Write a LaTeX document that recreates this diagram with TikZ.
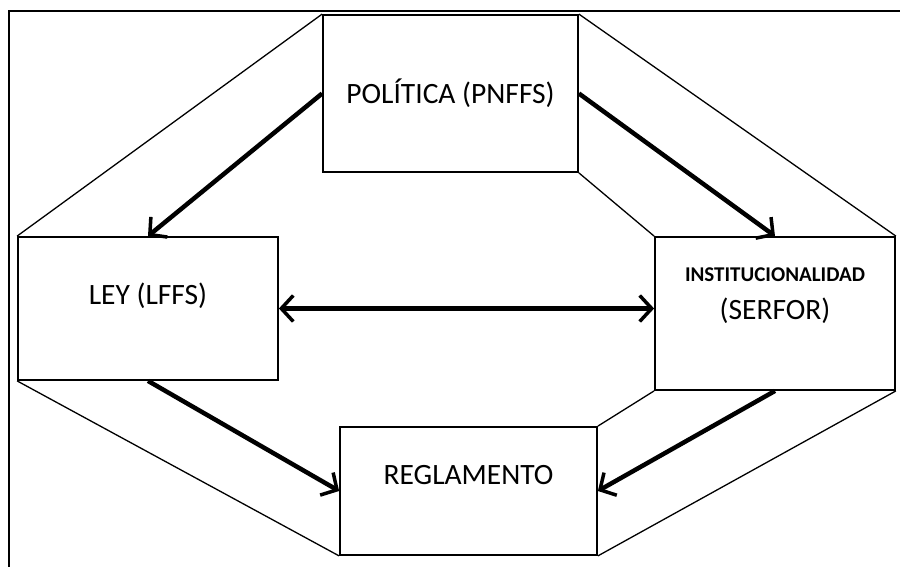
\documentclass[tikz,border=0pt]{standalone}
\usepackage{fontspec}
\setmainfont{Carlito}
\usetikzlibrary{arrows.meta}
\begin{document}
\begin{tikzpicture}[x=1pt,y=-1pt,
  >={Straight Barb[length=12pt,width=26pt,line width=3.5pt]},
  caja/.style={draw,line width=1.8pt,inner sep=0pt,font=\fontsize{29.5}{33}\selectfont},
  lado/.style={line width=1.3pt},
  flecha/.style={line width=4.5pt}]
\useasboundingbox (0,0) rectangle (900,567);
\draw[lado] (9,567) -- (9,11) -- (900,11);
% cajas
\node[caja,minimum width=255pt,minimum height=157pt] (pol) at (450.5,93.5) {POLÍTICA (PNFFS)};
\node[caja,minimum width=260pt,minimum height=143pt,text depth=30pt] (ley) at (148,308.5) {LEY (LFFS)};
\node[caja,minimum width=240pt,minimum height=153pt,align=center,text depth=40pt] (inst) at (775,313.5)
  {{\fontsize{21}{23}\selectfont\bfseries INSTITUCIONALIDAD}\\[5pt](SERFOR)};
\node[caja,minimum width=257pt,minimum height=128pt,text depth=32pt] (reg) at (468.5,491) {REGLAMENTO};
% contorno
\draw[lado]
(pol.north west) -- (ley.north west) (pol.north east) -- (inst.north east)
(pol.south east) -- (inst.north west) (ley.south west) -- (reg.south west)
(inst.south east) -- (reg.south east) (inst.south west) -- (reg.north east);
% flechas
\draw[flecha,->] (pol.west) -- (ley.north);
\draw[flecha,->] (pol.east) -- (inst.north);
\draw[flecha,<->] (ley.east) -- (inst.west |- ley.east);
\draw[flecha,->] (ley.south) -- (reg.west);
\draw[flecha,->] (inst.south) -- (reg.east);
\end{tikzpicture}
\end{document}
